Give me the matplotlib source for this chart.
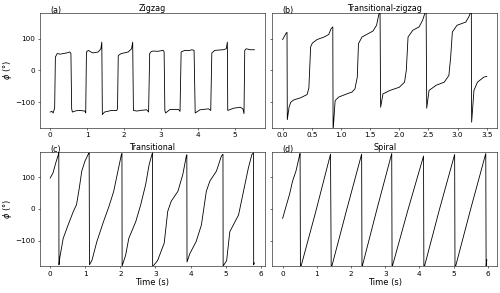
import matplotlib
matplotlib.use("Agg")
import matplotlib.pyplot as plt

# phi (deg) against time (s) for the four regimes
zigzag_t = [0, 0.05, 0.08, 0.12, 0.14, 0.19, 0.27, 0.35, 0.45, 0.53, 0.56, 0.58, 0.6, 0.7, 0.8, 0.94, 0.96,
            0.98, 1.03, 1.1, 1.16, 1.3, 1.37, 1.395, 1.41, 1.47, 1.66, 1.8, 1.82, 1.84, 1.92, 2.0, 2.11, 2.2,
            2.23, 2.25, 2.35, 2.43, 2.61, 2.66, 2.69, 2.72, 2.78, 2.9, 3.06, 3.08, 3.1, 3.12, 3.24, 3.47, 3.51,
            3.54, 3.64, 3.75, 3.83, 3.89, 3.92, 4.05, 4.28, 4.34, 4.37, 4.45, 4.68, 4.76, 4.79, 4.8, 4.96, 5.14,
            5.21, 5.24, 5.26, 5.3, 5.41, 5.52]
zigzag_phi = [-131, -129, -134, -118, 42, 53, 51, 53, 55, 58, 53, -121, -131, -127, -126, -128, -134,
              58, 63, 58, 55, 58, 68, 89, -139, -131, -126, -126, -120, 47, 53, 55, 58, 68,
              89, -126, -128, -126, -124, -131, 53, 58, 61, 60, 63, 58, -126, -134, -123, -123, -129,
              58, 63, 62, 65, 63, -134, -124, -121, -126, 55, 63, 65, 68, 89, -126, -119, -116,
              -121, -136, 63, 68, 65, 65]

tzig_t = [0, 0.056, 0.075, 0.08, 0.11, 0.14, 0.19, 0.31, 0.42, 0.45, 0.48, 0.51, 0.59, 0.71, 0.79, 0.83,
          0.86, 0.865, 0.9, 0.96, 1.1, 1.19, 1.24, 1.28, 1.3, 1.36, 1.47, 1.55, 1.61, 1.65, 1.67, 1.68, 1.72,
          1.84, 2.0, 2.09, 2.12, 2.15, 2.23, 2.34, 2.4, 2.44, 2.46, 2.47, 2.51, 2.63, 2.77, 2.85, 2.88, 2.91,
          2.99, 3.14, 3.19, 3.22, 3.235, 3.24, 3.28, 3.34, 3.45, 3.5]
tzig_phi = [97, 116, 120, -155, -116, -100, -93, -86, -76, -55, 74, 86, 97, 105, 113, 131,
            137, -190, -95, -84, -74, -68, -58, -21, 84, 105, 116, 124, 142, 177, 180, -116, -74,
            -63, -53, -37, 0, 105, 126, 137, 158, 181, 183, -119, -63, -47, -37, -16, 40, 121,
            142, 152, 168, 181, 183, -163, -63, -37, -21, -19]

trans_t = [0, 0.08, 0.16, 0.23, 0.245, 0.25, 0.27, 0.37, 0.51, 0.66, 0.75, 0.83, 0.9, 0.99, 1.09, 1.11,
           1.12, 1.19, 1.33, 1.52, 1.67, 1.81, 1.95, 2.03, 2.045, 2.05, 2.15, 2.24, 2.44, 2.58, 2.72, 2.82,
           2.9, 2.915, 2.92, 3.06, 3.25, 3.35, 3.45, 3.64, 3.78, 3.88, 3.895, 3.9, 3.98, 4.16, 4.31, 4.45,
           4.55, 4.74, 4.88, 4.925, 4.93, 5.03, 5.12, 5.37, 5.51, 5.65, 5.75, 5.795, 5.8, 5.82]
trans_phi = [97, 113, 145, 170, 177, -176, -156, -93, -51, -8, 13, 66, 119, 150, 173, 176,
             -176, -162, -103, -40, 6, 55, 129, 171, 174, -180, -146, -93, -40, 13, 76, 139,
             171, 176, -182, -163, -108, -8, 24, 55, 108, 166, 170, -167, -141, -103, -51, 55,
             87, 119, 166, 172, -180, -163, -72, -19, 55, 129, 171, 176, -176, -170]

spiral_t = [0, 0.1, 0.2, 0.29, 0.39, 0.49, 0.51, 0.52, 0.54, 0.97, 1.4, 1.42, 1.44, 1.88, 2.31, 2.32,
            2.33, 2.76, 3.19, 3.2, 3.21, 3.66, 4.12, 4.13, 4.15, 4.59, 5.03, 5.04, 5.06, 5.5, 5.94, 5.95,
            5.97]
spiral_phi = [-30, 8, 45, 87, 119, 166, 174, -182, -180, -8, 172, -182, -180, 0, 172, -182,
              -180, 0, 174, -182, -180, -5, 166, -182, -180, 0, 171, -182, -180, 0, 174, -182,
              -160]

panels = [
    ("(a)", "Zigzag", zigzag_t, zigzag_phi),
    ("(b)", "Transitional-zigzag", tzig_t, tzig_phi),
    ("(c)", "Transitional", trans_t, trans_phi),
    ("(d)", "Spiral", spiral_t, spiral_phi),
]

fig, axes = plt.subplots(2, 2, sharey=True, figsize=(10, 5.86), dpi=50)
fig.subplots_adjust(left=0.08, right=0.994, top=0.955, bottom=0.092, wspace=0.035, hspace=0.21)

for ax, (lab, name, t, phi) in zip(axes.flat, panels):
    ax.plot(t, phi, color="black", lw=1.2)
    ax.set_ylim(-180, 180)
    ax.set_title(name, pad=0, fontsize=11.5)
    ax.text(0, 1.0, lab, transform=ax.get_xaxis_transform(), ha="left", va="baseline", fontsize=11.5)
    ax.tick_params(labelsize=10.5)

for ax in axes[:, 0]:
    ax.set_ylabel(r"$\phi$ (°)", fontsize=12, labelpad=1)
for ax in axes[1, :]:
    ax.set_xlabel("Time (s)", fontsize=12, labelpad=2)

fig.savefig("out.png", dpi=50)
